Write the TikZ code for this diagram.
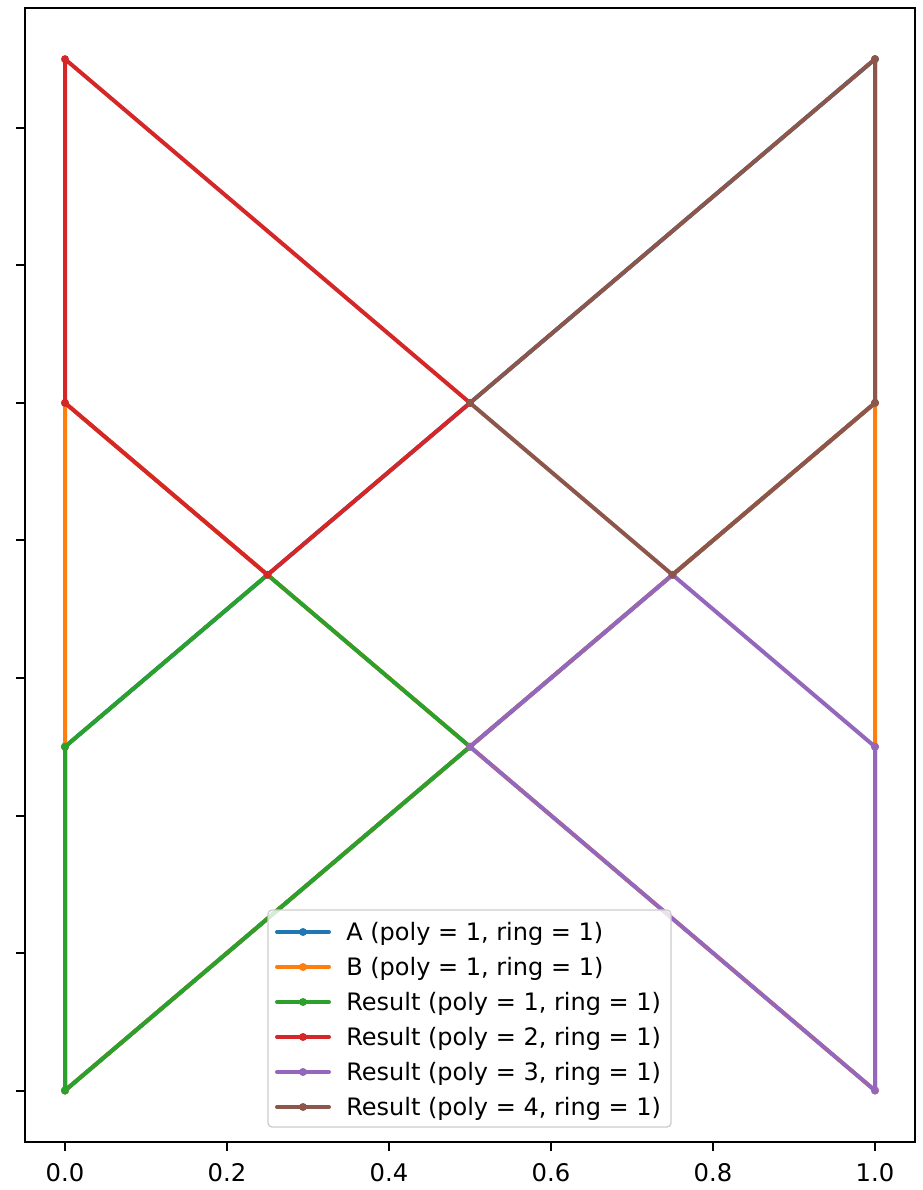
\documentclass[tikz,border=0pt]{standalone}
\usepackage{fontspec}
\setmainfont{DejaVu Sans}
\definecolor{tabblue}{HTML}{1F77B4}
\definecolor{taborange}{HTML}{FF7F0E}
\definecolor{tabgreen}{HTML}{2CA02C}
\definecolor{tabred}{HTML}{D62728}
\definecolor{tabpurple}{HTML}{9467BD}
\definecolor{tabbrown}{HTML}{8C564B}
\definecolor{legendgray}{gray}{0.8}
\begin{document}
\begin{tikzpicture}[x=0.75pt,y=-0.75pt,
  series/.style={line width=3pt, line join=round, line cap=round},
  spine/.style={line width=1.5pt, line cap=rect},
  tick/.style={line width=1.5pt},
  ticklabel/.style={anchor=base, inner sep=0pt, font=\fontsize{18.2pt}{21pt}\selectfont},
  legtext/.style={anchor=base west, inner sep=0pt, font=\fontsize{18pt}{21pt}\selectfont}]
\useasboundingbox (0,0) rectangle (923,1190);
% data vertices (x: 0->65, 1->875 ; y: 0->1090.5, 3->59.1)
\coordinate (a00) at (65,1090.5);
\coordinate (a01) at (65,746.7);
\coordinate (a02) at (65,402.9);
\coordinate (a03) at (65,59.1);
\coordinate (b10) at (875,1090.5);
\coordinate (b11) at (875,746.7);
\coordinate (b12) at (875,402.9);
\coordinate (b13) at (875,59.1);
\coordinate (q1) at (267.5,574.8);
\coordinate (m1) at (470,746.7);
\coordinate (m2) at (470,402.9);
\coordinate (q3) at (672.5,574.8);
% A
\draw[series, tabblue] (a00) -- (a01) -- (b13) -- (b12) -- cycle;
\foreach \p in {a00,a01,b13,b12} \fill[tabblue] (\p) circle (3pt);
% B
\draw[series, taborange] (a01) -- (a02) -- (b10) -- (b11) -- (b12) -- (a00) -- cycle;
\foreach \p in {a01,a02,b10,b11,b12,a00} \fill[taborange] (\p) circle (3pt);
% Result 1
\draw[series, tabgreen] (a00) -- (a01) -- (q1) -- (m1) -- cycle;
\foreach \p in {a00,a01,q1,m1} \fill[tabgreen] (\p) circle (3pt);
% Result 2
\draw[series, tabred] (a03) -- (a02) -- (q1) -- (m2) -- cycle;
\foreach \p in {a03,a02,q1,m2} \fill[tabred] (\p) circle (3pt);
% Result 3
\draw[series, tabpurple] (b10) -- (m1) -- (q3) -- (b11) -- cycle;
\foreach \p in {b10,m1,q3,b11} \fill[tabpurple] (\p) circle (3pt);
% Result 4
\draw[series, tabbrown] (b13) -- (m2) -- (q3) -- (b12) -- cycle;
\foreach \p in {b13,m2,q3,b12} \fill[tabbrown] (\p) circle (3pt);
% axes frame
\coordinate (fr1) at (25,8);
\coordinate (fr2) at (915,1142);
\draw[spine] (fr1) rectangle (fr2);
% y ticks
\foreach \yy in {1090.5,953,815.5,678,540.4,402.9,265.4,128}
  \draw[tick] (25,\yy) -- (16,\yy);
% x ticks and labels
\foreach \xx/\lab [count=\i] in {65/0.0,227/0.2,389/0.4,551/0.6,713/0.8,875/1.0} {
  \draw[tick] (\xx,1142) -- (\xx,1151);
  \node[ticklabel] (xl\i) at (\xx,1181) {\lab};
}
% legend
\draw[legendgray, line width=1pt, fill=white, fill opacity=0.8, rounded corners=3pt] (268,910) rectangle (671,1127);
\foreach \c/\t [count=\i] in {tabblue/A (poly = 1{,} ring = 1),
                              taborange/B (poly = 1{,} ring = 1),
                              tabgreen/Result (poly = 1{,} ring = 1),
                              tabred/Result (poly = 2{,} ring = 1),
                              tabpurple/Result (poly = 3{,} ring = 1),
                              tabbrown/Result (poly = 4{,} ring = 1)} {
  \pgfmathsetmacro\ry{932+35*(\i-1)}
  \draw[series, \c] (277,\ry) -- (329,\ry);
  \fill[\c] (303,\ry) circle (3pt);
  \node[legtext] (leg\i) at (346,\ry+8.5) {\t};
}
\end{tikzpicture}
\end{document}
